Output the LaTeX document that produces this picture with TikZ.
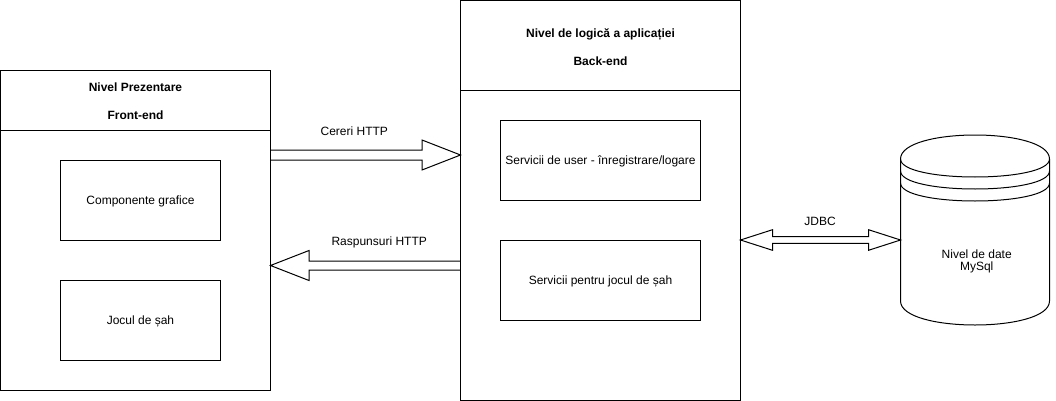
\documentclass[tikz,border=0pt]{standalone}
\usepackage{fontspec}
\setmainfont{Liberation Sans}
\usetikzlibrary{calc}
\begin{document}
\begin{tikzpicture}[x=1pt,y=-1pt,line width=1pt,
  container/.style={draw, rectangle, inner sep=0pt, outer sep=0pt, anchor=north west},
  box/.style={draw, rectangle, inner sep=0pt, outer sep=0pt, anchor=north west,
    font=\fontsize{12}{14}\selectfont, text height=8.6pt, text depth=0pt},
  hdr/.style={inner sep=0pt, font=\fontsize{12}{14}\selectfont\bfseries, text height=8.6pt, text depth=0pt},
  lbl/.style={inner sep=0pt, font=\fontsize{12}{14}\selectfont, text height=8.6pt, text depth=0pt},
  flex/.style={draw, line width=1pt, line join=miter},
  dbline/.style={draw, line width=1pt}
]
\useasboundingbox (0,0) rectangle (1056,401);

% containers
\node[container, minimum width=270pt, minimum height=320pt] (front) at (0.5,70.5) {};
\node[container, minimum width=280pt, minimum height=400pt] (back) at (460.5,0.5) {};
\draw ($(front.north west)+(0,60)$) coordinate (fh1) -- ($(front.north east)+(0,60)$) coordinate (fh2);
\draw ($(back.north west)+(0,90)$) coordinate (bh1) -- ($(back.north east)+(0,90)$) coordinate (bh2);

% headers
\node[hdr] (fronttitle) at (135.5,87.2) {Nivel Prezentare};
\node[hdr] (frontsub) at (135.5,115.5) {Front-end};
\node[hdr] (backtitle) at (600.5,32.8) {Nivel de logică a aplicației};
\node[hdr] (backsub) at (600.5,61.2) {Back-end};

% inner boxes
\node[box, minimum width=160pt, minimum height=80pt] (comp) at (60.5,160.5) {Componente grafice};
\node[box, minimum width=160pt, minimum height=80pt] (joc) at (60.5,280.5) {Jocul de șah};
\node[box, minimum width=200pt, minimum height=80pt] (user) at (500.5,120.5) {Servicii de user - înregistrare/logare};
\node[box, minimum width=200pt, minimum height=80pt] (sah) at (500.5,240.5) {Servicii pentru jocul de șah};

% database cylinder
\node[inner sep=0pt, outer sep=0pt, minimum width=149pt, minimum height=190pt, anchor=north west] (db) at (900.5,135) {};
\draw[dbline] (db.north west) ++(0,24) coordinate (c0)
  .. controls ($(db.north west)+(0,-8)$) and ($(db.north east)+(0,-8)$) .. ($(db.north east)+(0,24)$)
  -- ($(db.south east)+(0,-24)$)
  .. controls ($(db.south east)+(0,8)$) and ($(db.south west)+(0,8)$) .. ($(db.south west)+(0,-24)$)
  -- cycle;
\draw[dbline] ($(db.north west)+(0,24)$) .. controls ($(db.north west)+(0,48)$) and ($(db.north east)+(0,48)$) .. ($(db.north east)+(0,24)$);
\draw[dbline] ($(db.north west)+(0,36)$) .. controls ($(db.north west)+(0,60)$) and ($(db.north east)+(0,60)$) .. ($(db.north east)+(0,36)$);
\draw[dbline] ($(db.north west)+(0,48)$) .. controls ($(db.north west)+(0,72)$) and ($(db.north east)+(0,72)$) .. ($(db.north east)+(0,48)$);
\node[inner sep=0pt, align=center, font=\fontsize{12}{12.5}\selectfont] (dbtext) at (976.7,261.5) {Nivel de date\\MySql};

% connector end points
\coordinate (a1s) at (front.east |- 0,155);
\coordinate (a1e) at (back.west |- 0,155);
\coordinate (a2s) at (back.west |- 0,265.5);
\coordinate (a2e) at (front.east |- 0,265.5);
\coordinate (j1) at (back.east |- 0,240);
\coordinate (j2) at (db.west |- 0,240);

% Cereri HTTP
\draw[flex] ($(a1s)+(0,-5)$) -- ($(a1e)+(-38.5,-5)$) -- ($(a1e)+(-38.5,-15)$) -- (a1e)
  -- ($(a1e)+(-38.5,15)$) -- ($(a1e)+(-38.5,5)$) -- ($(a1s)+(0,5)$);
\node[lbl] (cereri) at (354.3,131.2) {Cereri HTTP};

% Raspunsuri HTTP
\draw[flex] ($(a2s)+(0,-4.5)$) -- ($(a2e)+(38.5,-4.5)$) -- ($(a2e)+(38.5,-15)$) -- (a2e)
  -- ($(a2e)+(38.5,15)$) -- ($(a2e)+(38.5,4.5)$) -- ($(a2s)+(0,4.5)$);
\node[lbl] (rasp) at (379.2,241.2) {Raspunsuri HTTP};

% JDBC
\draw[flex] ($(j1)+(32,-3.3)$) -- ($(j2)+(-32,-3.3)$) -- ($(j2)+(-32,-10.3)$) -- (j2)
  -- ($(j2)+(-32,10.3)$) -- ($(j2)+(-32,3.3)$) -- ($(j1)+(32,3.3)$) -- ($(j1)+(32,10.3)$)
  -- (j1) -- ($(j1)+(32,-10.3)$) -- cycle;
\node[lbl] (jdbc) at (820,221.5) {JDBC};
\end{tikzpicture}
\end{document}
